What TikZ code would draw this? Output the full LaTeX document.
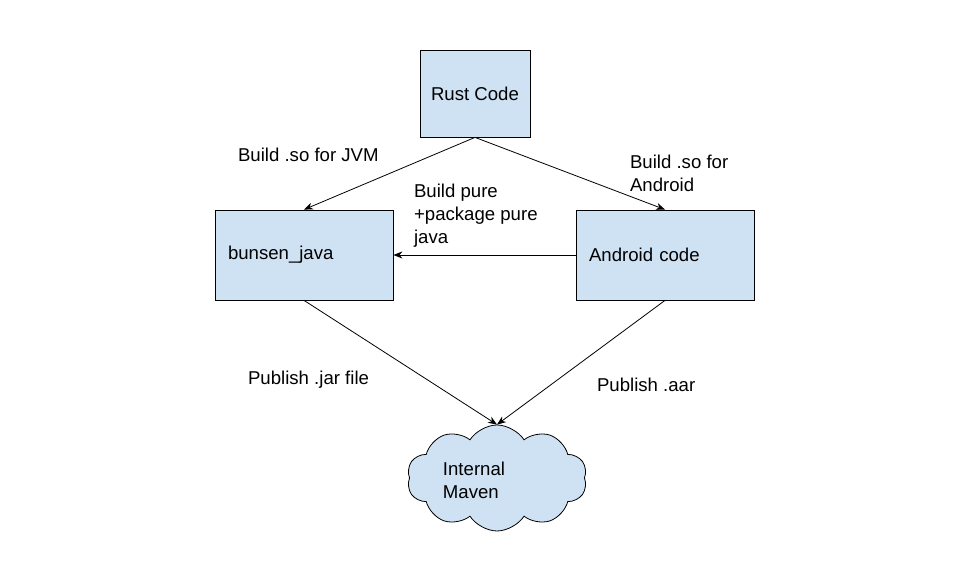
\documentclass[tikz,border=0pt]{standalone}
\usepackage{fontspec}
\setmainfont{Liberation Sans}
\usetikzlibrary{arrows.meta, positioning, shapes.symbols}
\definecolor{boxblue}{HTML}{CFE2F3}

\begin{document}
\begin{tikzpicture}[x=0.5pt, y=-0.5pt, ->, >={Stealth[length=4.5pt, width=3.5pt]}, thin,
	font=\fontsize{9.3}{11.5}\selectfont]
		\useasboundingbox (0,0) rectangle (954,565);
		
		% Rust code block
		\node[draw, fill=boxblue, minimum width=55pt, minimum height=43.5pt] (rust) at (475,93.5) {Rust Code};
		
		% Java and Android blocks
		\node[draw, fill=boxblue, minimum width=89pt, minimum height=45pt, text width=76pt, inner xsep=6pt, align=left] (bunsen) at (304,255) {bunsen\_java};
		\node[draw, fill=boxblue, minimum width=89pt, minimum height=45pt, text width=76pt, inner xsep=4.5pt, align=left] (android) at (665,255) {Android code};
		
		% Maven cloud
		\node[draw, cloud, cloud puffs=10, cloud puff arc=115, fill=boxblue, minimum width=90pt, minimum height=53pt, inner sep=0pt] (maven) at (497,478) {};
		\node[align=left] (maventext) at (474,480) {Internal\\Maven};
		
		% Labels
		\node[anchor=west] (jvmlabel) at (231,155) {Build .so for JVM};
		\node[anchor=west, align=left] (androidlabel) at (623,173) {Build .so for\\Android};
		\node[anchor=west, align=left] (purelabel) at (407,216) {Build pure\\+package pure\\java};
		\node[anchor=west] (jarlabel) at (241,380) {Publish .jar file};
		\node[anchor=west] (aarlabel) at (590,385) {Publish .aar};
		
		% Connections
		\draw[->] (rust.south) -- (bunsen.north);
		\draw[->] (rust.south) -- (android.north);
		\draw[->] (android.west) -- (bunsen.east);
		\draw[->] (bunsen.south) -- (maven.north);
		\draw[->] (android.south) -- (maven.north);
		
	\end{tikzpicture}
\end{document}
